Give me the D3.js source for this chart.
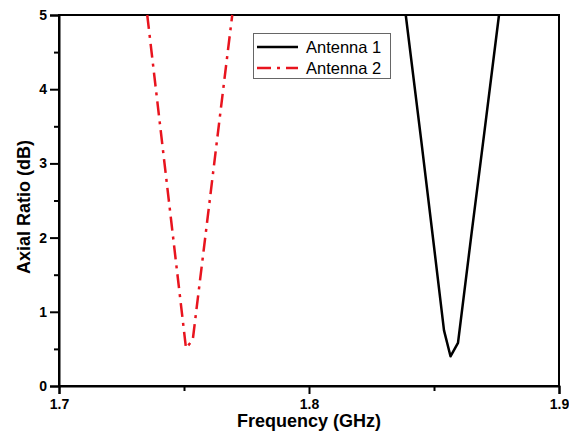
<!DOCTYPE html>
<html>
<head>
<meta charset="utf-8">
<script src="https://cdn.jsdelivr.net/npm/d3@7"></script>
<style>
    body { margin: 0; background: #fff; }
    svg { display: block; font-family: "Liberation Sans", Arial, sans-serif; }
</style>
</head>
<body>
<div id="chart"></div>
<script>
// Axial ratio vs frequency
const seriesNames = ['Antenna 1', 'Antenna 2'];
const freq1 = [1.8387, 1.8450, 1.8500, 1.8540, 1.8566, 1.8596, 1.8650, 1.8700, 1.8760];
const ar1   = [5.00,   3.28,   1.88,   0.75,   0.40,   0.58,   2.05,   3.38,   5.00];
const freq2 = [1.7353, 1.7400, 1.7450, 1.7508, 1.7535, 1.7600, 1.7650, 1.7693];
const ar2   = [5.00,   3.64,   2.19,   0.51,   0.62,   2.42,   3.81,   5.00];
const xTicks = [1.7, 1.8, 1.9];
const xMinorTicks = [1.75, 1.85];
const yTicks = [0, 1, 2, 3, 4, 5];
const yMinorTicks = [0.5, 1.5, 2.5, 3.5, 4.5];

const width = 569, height = 436;
const margin = { top: 15, right: 10, bottom: 50, left: 59 };

const svg = d3.select('#chart')
    .append('svg')
    .attr('width', width)
    .attr('height', height);

const x = d3.scaleLinear()
    .domain([1.7, 1.9])
    .range([margin.left, width - margin.right]);

const y = d3.scaleLinear()
    .domain([0, 5])
    .range([height - margin.bottom, margin.top]);

// Frame (top and right)
svg.append('rect')
    .attr('x', x(1.7))
    .attr('y', y(5))
    .attr('width', x(1.9) - x(1.7))
    .attr('height', y(0) - y(5))
    .attr('fill', 'none')
    .attr('stroke', '#000')
    .attr('stroke-width', 2);

// Bottom axis
svg.append('g')
    .attr('transform', `translate(0, ${y(0)})`)
    .call(d3.axisBottom(x).tickValues(xTicks).tickSize(8).tickPadding(5).tickFormat(d3.format('.1f')));
svg.append('g')
    .attr('transform', `translate(0, ${y(0)})`)
    .call(d3.axisBottom(x).tickValues(xMinorTicks).tickSize(5).tickFormat(''))
    .call(g => g.select('.domain').remove());

// Left axis
svg.append('g')
    .attr('transform', `translate(${x(1.7)}, 0)`)
    .call(d3.axisLeft(y).tickValues(yTicks).tickSize(9).tickPadding(3).tickFormat(d3.format('d')));
svg.append('g')
    .attr('transform', `translate(${x(1.7)}, 0)`)
    .call(d3.axisLeft(y).tickValues(yMinorTicks).tickSize(5).tickFormat(''))
    .call(g => g.select('.domain').remove());

svg.selectAll('.domain').attr('stroke-width', 2);
svg.selectAll('.tick line').attr('stroke-width', 2);
svg.selectAll('.tick text')
    .attr('fill', '#000')
    .style('font-size', '14px')
    .style('font-weight', 'bold')
    .style('font-family', '"Liberation Sans", Arial, sans-serif');

// Curves
const line = d3.line()
    .x(d => x(d[0]))
    .y(d => y(d[1]));

svg.append('path')
    .datum(d3.zip(freq1, ar1))
    .attr('d', line)
    .attr('fill', 'none')
    .attr('stroke', '#000')
    .attr('stroke-width', 2.5)
    .attr('stroke-linejoin', 'round');

svg.append('path')
    .datum(d3.zip(freq2, ar2))
    .attr('d', line)
    .attr('fill', 'none')
    .attr('stroke', '#e8141e')
    .attr('stroke-width', 2.5)
    .attr('stroke-dasharray', '14,6,3,6');

// Axis titles
svg.append('text')
    .attr('x', (x(1.7) + x(1.9)) / 2)
    .attr('y', 427)
    .attr('text-anchor', 'middle')
    .style('font-size', '18px')
    .style('font-weight', 'bold')
    .text('Frequency (GHz)');

svg.append('text')
    .attr('transform', `translate(30, 207) rotate(-90)`)
    .attr('text-anchor', 'middle')
    .style('font-size', '18px')
    .style('font-weight', 'bold')
    .text('Axial Ratio (dB)');

// Legend
const legend = svg.append('g');
legend.append('rect')
    .attr('x', 253.5)
    .attr('y', 33.5)
    .attr('width', 137)
    .attr('height', 45)
    .attr('fill', '#fff')
    .attr('stroke', '#666')
    .attr('stroke-width', 1);

const legendStyles = [
    { color: '#000', dash: null },
    { color: '#e8141e', dash: '14,6,3,6' }
];
seriesNames.forEach((name, i) => {
    const ly = 47 + i * 21;
    legend.append('line')
        .attr('x1', 257)
        .attr('x2', 298)
        .attr('y1', ly)
        .attr('y2', ly)
        .attr('stroke', legendStyles[i].color)
        .attr('stroke-width', 2.5)
        .attr('stroke-dasharray', legendStyles[i].dash);
    legend.append('text')
        .attr('x', 306)
        .attr('y', ly + 6)
        .style('font-size', '16.5px')
        .text(name);
});
</script>
</body>
</html>
